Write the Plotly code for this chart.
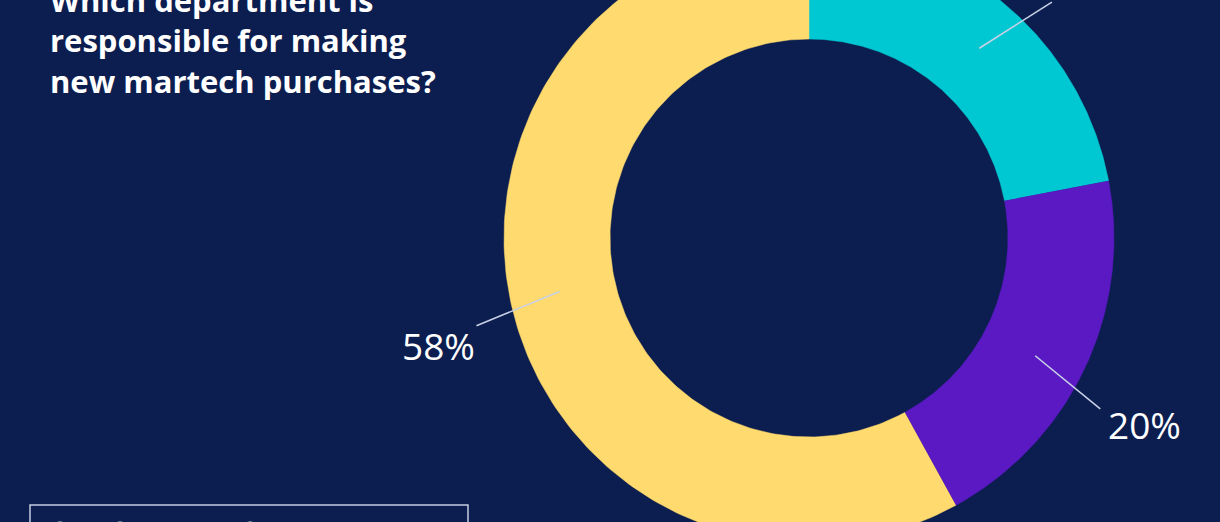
import numpy as np
import plotly.graph_objects as go

# Données du sondage
departments = ["IT", "Marketing", "IT and marketing together"]
shares = [22, 20, 58]
colors = ["#00C8D2", "#5A19C3", "#FFDA6E"]

title_text = "Which department is<br>responsible for making<br>new martech purchases?"

BG = "#0C1E4F"
W, H = 1220, 522
cx, cy = 809, 238          # centre de l'anneau (px)
r_out, r_in = 305, 199
r_lead = 255
lead_shift = 2.3           # décalage angulaire du départ des traits
lead_tilt = [18, 14, -8]   # inclinaison des traits de rappel (deg)
lead_len = [86, 84, 90]
label_off = [(40, -22), (44, 16), (-38, 20)]


def pt(r, deg):
    a = np.radians(deg)
    return cx + r * np.sin(a), cy - r * np.cos(a)


fig = go.Figure()

total = sum(shares)
start = 0.0
for val, col, tilt, ln, (dx, dy) in zip(shares, colors, lead_tilt, lead_len, label_off):
    end = start + 360 * val / total
    th = np.linspace(start, end, 200)
    xo, yo = pt(r_out, th)
    xi, yi = pt(r_in, th[::-1])
    fig.add_trace(go.Scatter(
        x=np.concatenate([xo, xi]), y=np.concatenate([yo, yi]),
        fill="toself", fillcolor=col, mode="lines",
        line=dict(color=col, width=0.5), hoverinfo="skip", showlegend=False,
    ))
    mid = (start + end) / 2
    x0, y0 = pt(r_lead, mid + lead_shift)
    a = np.radians(mid + tilt)
    x1, y1 = x0 + ln * np.sin(a), y0 - ln * np.cos(a)
    fig.add_trace(go.Scatter(
        x=[x0, x1], y=[y0, y1], mode="lines",
        line=dict(color="#C8D0E6", width=1.6), hoverinfo="skip", showlegend=False,
    ))
    fig.add_annotation(
        x=x1 + dx, y=y1 + dy, xref="x", yref="y", text=f"{val}%", showarrow=False,
        font=dict(family="Open Sans", size=37, color="white", weight=500),
    )
    start = end

# entrées de légende (pastilles rondes)
for name, col in zip(departments, colors):
    fig.add_trace(go.Scatter(
        x=[None], y=[None], mode="markers", name=name,
        marker=dict(symbol="circle", size=16, color=col, line=dict(color="white", width=1.5)),
    ))

# cadre de la légende
fig.add_shape(type="rect", xref="x", yref="y", x0=30, x1=468, y0=505, y1=580,
              line=dict(color="#C5CDE3", width=1.5), fillcolor="rgba(0,0,0,0)")

fig.add_annotation(
    x=48 / W, y=1.045, xref="paper", yref="paper", xanchor="left", yanchor="top",
    align="left", showarrow=False, text=title_text,
    font=dict(family="Open Sans", size=31, color="white", weight="bold"),
)

fig.update_layout(
    width=W, height=H,
    paper_bgcolor=BG, plot_bgcolor=BG,
    margin=dict(l=0, r=0, t=0, b=0, autoexpand=False),
    xaxis=dict(range=[0, W], visible=False, fixedrange=True),
    yaxis=dict(range=[H, 0], visible=False, fixedrange=True),
    legend=dict(
        orientation="h", x=40 / W, xanchor="left", y=1 - 512 / H, yanchor="top",
        bgcolor="rgba(0,0,0,0)", borderwidth=0,
        font=dict(family="Open Sans", size=18, color="white"),
    ),
    showlegend=True,
)

fig.write_html("out.html", config={"displayModeBar": False},
               post_script="document.body.style.margin='0';")
